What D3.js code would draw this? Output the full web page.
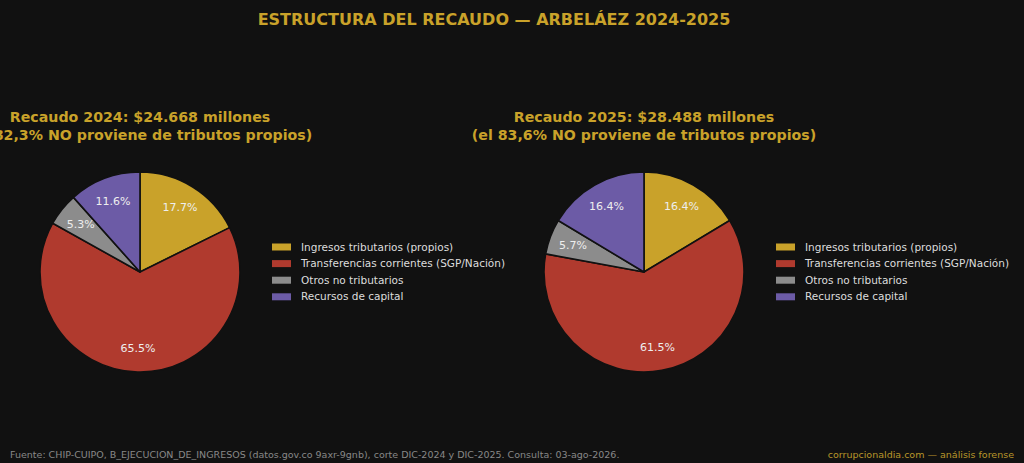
<!DOCTYPE html>
<html><head><meta charset="utf-8">
<script src="https://cdn.jsdelivr.net/npm/d3@7"></script>
<style>
html,body{margin:0;padding:0;background:#111111;}
svg{display:block;font-family:"DejaVu Sans",sans-serif;}
</style></head>
<body>
<svg id="c" width="1024" height="463"></svg>
<script>
const categories = ["Ingresos tributarios (propios)", "Transferencias corrientes (SGP/Nación)", "Otros no tributarios", "Recursos de capital"];
const colors = ["#C9A22A", "#B03A2E", "#8C8C8C", "#6C5BA6"];
const values2024 = [17.7, 65.5, 5.3, 11.6];
const values2025 = [16.4, 61.5, 5.7, 16.4];
const titles2024 = ["Recaudo 2024: $24.668 millones", "(el 82,3% NO proviene de tributos propios)"];
const titles2025 = ["Recaudo 2025: $28.488 millones", "(el 83,6% NO proviene de tributos propios)"];
const mainTitle = "ESTRUCTURA DEL RECAUDO — ARBELÁEZ 2024-2025";
const footerLeft = "Fuente: CHIP-CUIPO, B_EJECUCION_DE_INGRESOS (datos.gov.co 9axr-9gnb), corte DIC-2024 y DIC-2025. Consulta: 03-ago-2026.";
const footerRight = "corrupcionaldia.com — análisis forense";

const svg = d3.select("#c");
const gold = "#C9A22A";

svg.append("text").attr("x", 494).attr("y", 25).attr("text-anchor", "middle")
  .attr("fill", gold).attr("font-weight", "bold").attr("font-size", 16).text(mainTitle);

const color = d3.scaleOrdinal().domain(categories).range(colors);
const R = 100;
const pie = d3.pie().sort(null).value(d => d.v).startAngle(0).endAngle(2 * Math.PI);
const arc = d3.arc().innerRadius(0).outerRadius(R);
const labelArc = d3.arc().innerRadius(R * 0.76).outerRadius(R * 0.76);

function drawPanel(cx, vals, titles) {
  const data = categories.map((c, i) => ({c, v: vals[i]}));
  const g = svg.append("g").attr("transform", `translate(${cx},272)`);
  const arcs = pie(data);
  g.selectAll("path").data(arcs).join("path")
    .attr("d", arc).attr("fill", d => color(d.data.c))
    .attr("stroke", "#111111").attr("stroke-width", 1.6).attr("stroke-linejoin", "round");
  g.selectAll("text.pct").data(arcs).join("text").attr("class", "pct")
    .attr("transform", d => `translate(${labelArc.centroid(d)})`)
    .attr("text-anchor", "middle").attr("dy", "0.35em")
    .attr("fill", "#EEEEEE").attr("font-size", 11)
    .text(d => d.data.v.toFixed(1) + "%");
  const t = svg.append("text").attr("text-anchor", "middle").attr("fill", gold)
    .attr("font-weight", "bold").attr("font-size", 14.2);
  titles.forEach((s, i) => t.append("tspan").attr("x", cx).attr("y", 122 + i * 18).text(s));

  const lg = svg.append("g").attr("transform", `translate(${cx + 132},247)`);
  categories.forEach((c, i) => {
    lg.append("rect").attr("x", 0).attr("y", i * 16.6 - 3.5).attr("width", 19).attr("height", 7).attr("fill", color(c));
    lg.append("text").attr("x", 29).attr("y", i * 16.6).attr("dy", "0.35em")
      .attr("fill", "#DDDDDD").attr("font-size", 10.5).text(c);
  });
}
drawPanel(140, values2024, titles2024);
drawPanel(644, values2025, titles2025);

svg.append("text").attr("x", 10).attr("y", 458).attr("fill", "#888888").attr("font-size", 9.5).text(footerLeft);
svg.append("text").attr("x", 1014).attr("y", 458).attr("text-anchor", "end").attr("fill", "#B8962A").attr("font-size", 9.5).text(footerRight);
</script>
</body></html>
